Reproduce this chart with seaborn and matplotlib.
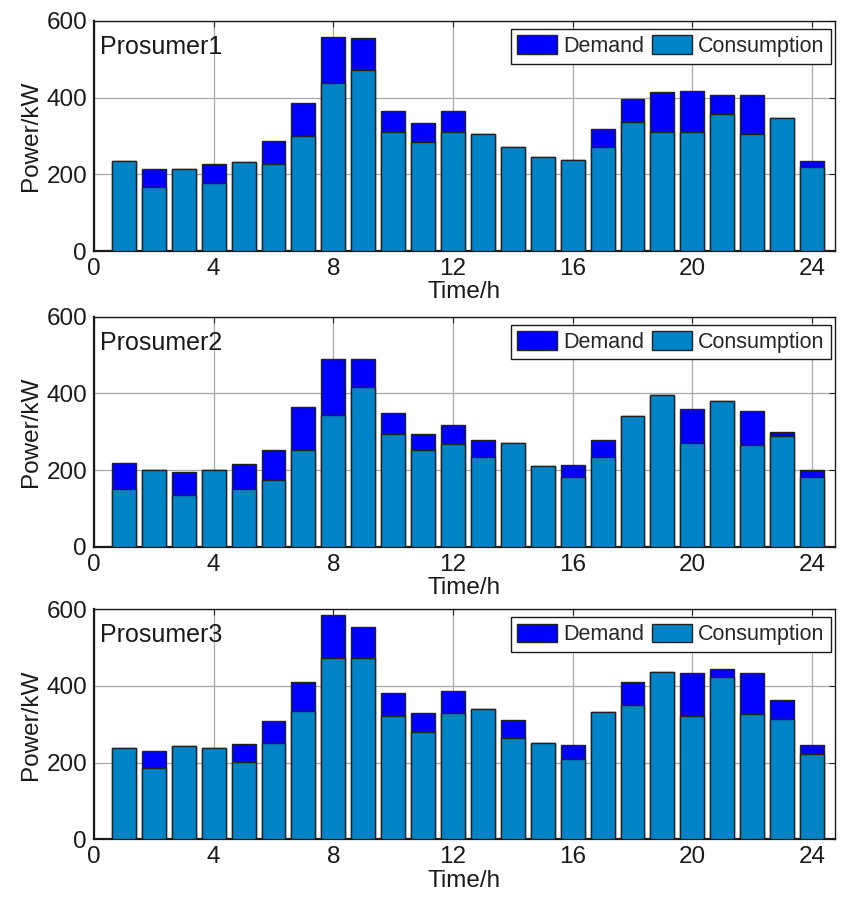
import matplotlib
matplotlib.use("Agg")
import matplotlib.pyplot as plt
import seaborn as sns
import pandas as pd
from matplotlib.patches import Patch

hours = list(range(1, 25))

p1_demand = [234, 215, 215, 228, 231, 288, 386, 558, 556, 366, 334, 366,
             306, 271, 245, 237, 317, 396, 415, 417, 407, 407, 346, 236]
p1_consumption = [234, 166, 215, 177, 231, 226, 300, 437, 473, 311, 284, 311,
                  306, 271, 245, 237, 270, 337, 311, 311, 358, 305, 346, 218]

p2_demand = [219, 200, 196, 200, 216, 251, 365, 489, 489, 349, 295, 318,
             277, 270, 210, 213, 277, 342, 395, 359, 380, 354, 300, 201]
p2_consumption = [151, 200, 135, 200, 151, 174, 253, 344, 417, 294, 251, 269,
                  233, 270, 210, 181, 235, 342, 395, 270, 380, 264, 289, 181]

p3_demand = [237, 230, 243, 237, 248, 309, 411, 585, 555, 381, 329, 387,
             340, 311, 250, 245, 331, 411, 437, 435, 444, 435, 363, 245]
p3_consumption = [237, 185, 243, 237, 201, 250, 334, 474, 472, 323, 280, 329,
                  340, 264, 250, 209, 331, 350, 437, 323, 424, 326, 313, 223]

names = ["Prosumer1", "Prosumer2", "Prosumer3"]
demands = [p1_demand, p2_demand, p3_demand]
consumptions = [p1_consumption, p2_consumption, p3_consumption]

x_ticks = [0, 4, 8, 12, 16, 20, 24]
y_ticks = [0, 200, 400, 600]

demand_color = "#0000FF"
cons_color = "#0084C8"

sns.set_style("white")
plt.rcParams["font.family"] = ["Liberation Sans", "DejaVu Sans"]

fig = plt.figure(figsize=(8.41, 9.0), dpi=100)

# axes rectangles [left, bottom, width, height] in figure fractions
left, right = 0.1118, 0.9929
panels = [(0.7211, 0.9767), (0.3926, 0.6481), (0.0674, 0.3230)]

for name, dem, con, (bot, top) in zip(names, demands, consumptions, panels):
    ax = fig.add_axes([left, bot, right - left, top - bot])
    df = pd.DataFrame({"Time": hours, "Demand": dem, "Consumption": con})
    sns.barplot(data=df, x="Time", y="Demand", native_scale=True, width=0.8,
                color=demand_color, saturation=1, edgecolor="#222222",
                linewidth=1.0, ax=ax, zorder=2)
    sns.barplot(data=df, x="Time", y="Consumption", native_scale=True, width=0.8,
                color=cons_color, saturation=1, edgecolor="#222222",
                linewidth=1.0, ax=ax, zorder=3)

    ax.set_xlim(0, 24.77)
    ax.set_ylim(0, 600)
    ax.set_xticks(x_ticks)
    ax.set_yticks(y_ticks)
    ax.set_xticklabels([str(t) for t in x_ticks])
    ax.set_yticklabels([str(t) for t in y_ticks])
    ax.grid(True, color="#a8a8a8", linewidth=0.9, linestyle="-")
    ax.set_axisbelow(True)
    ax.tick_params(direction="in", length=4, width=0.8, top=True, right=True,
                   labelsize=17.5, pad=5, colors="#222222",
                   labelcolor="#1a1a1a")
    for sp in ax.spines.values():
        sp.set_color("#1a1a1a")
        sp.set_linewidth(1.0)
    ax.spines["left"].set_linewidth(1.6)
    ax.spines["bottom"].set_linewidth(1.6)

    ax.set_xlabel("Time/h", fontsize=17.5, labelpad=1, color="#1a1a1a")
    ax.set_ylabel("Power/kW", fontsize=17.5, labelpad=3, color="#1a1a1a")

    ax.text(0.008, 0.857, name, transform=ax.transAxes, fontsize=18,
            va="baseline", ha="left", color="#1a1a1a")

    handles = [Patch(facecolor=demand_color, edgecolor="#222222", label="Demand"),
               Patch(facecolor=cons_color, edgecolor="#222222", label="Consumption")]
    leg = ax.legend(handles=handles, loc="upper right",
                    bbox_to_anchor=(1 - 4 / 741, 1 - 8 / 230), borderaxespad=0,
                    ncol=2, fontsize=15.5, frameon=True, fancybox=False,
                    edgecolor="#1a1a1a", framealpha=1, handlelength=1.85,
                    handleheight=0.95, handletextpad=0.3, columnspacing=0.35,
                    borderpad=0.3)
    leg.get_frame().set_linewidth(1.0)

fig.savefig("out.png", dpi=100)
